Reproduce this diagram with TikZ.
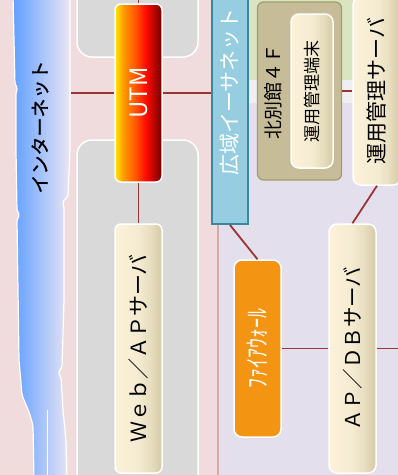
\documentclass[tikz,border=0pt]{standalone}
\usepackage{fontspec}
\usepackage{graphicx}
\newfontfamily\jp{Noto Sans CJK JP}
\newfontfamily\jpb[FakeBold=1]{Noto Sans CJK JP}
\definecolor{pinkbg}{HTML}{F0DCDC}
\definecolor{pinkline}{HTML}{DAA9A9}
\definecolor{greenbg}{HTML}{D9E4C2}
\definecolor{bandbg}{HTML}{EFEEF1}
\definecolor{lavbg}{HTML}{E4DFEC}
\definecolor{groupgray}{HTML}{D9D9D9}
\definecolor{conn}{HTML}{993535}
\definecolor{bluefill}{HTML}{96CDE0}
\definecolor{blueline}{HTML}{3A88A0}
\definecolor{tanfill}{HTML}{C6BD98}
\definecolor{tanline}{HTML}{A39C6C}
\definecolor{fworange}{HTML}{F39412}
\definecolor{cloudL}{HTML}{62A0FF}
\definecolor{cloudR}{HTML}{ECE6F4}
\definecolor{uy}{HTML}{FFE800}
\definecolor{uo}{HTML}{FF9A00}
\definecolor{uo2}{HTML}{FF5A00}
\definecolor{ur}{HTML}{FF0A00}
\definecolor{udr}{HTML}{700000}
\definecolor{c1}{HTML}{FCF2DA}
\definecolor{c2}{HTML}{F4EBD1}
\definecolor{c3}{HTML}{E6DCBD}
\definecolor{c4}{HTML}{D3C9A3}
\pgfdeclarehorizontalshading{utmshade}{100bp}{color(0bp)=(uy); color(25bp)=(uy); color(34bp)=(uo); color(46bp)=(uo2); color(58bp)=(ur); color(75bp)=(udr); color(100bp)=(udr)}
\pgfdeclarehorizontalshading{creamshade}{100bp}{color(0bp)=(c1); color(25bp)=(c1); color(50bp)=(c2); color(64bp)=(c3); color(75bp)=(c4); color(100bp)=(c4)}
\begin{document}
\begin{tikzpicture}[x=1pt,y=-1pt,
  groupbox/.style={fill=groupgray,draw=white,line width=1.5pt,rounded corners=15pt},
  conline/.style={draw=conn,line width=1.8pt},
  whitebox/.style={draw=white,line width=1.5pt,rounded corners=6pt,inner sep=0pt},
  creambox/.style={whitebox,shading=creamshade,shade},
  jpt/.style={font=\jp\fontsize{#1}{#1}\selectfont}
]
\useasboundingbox (0,0) rectangle (398,475);
\clip (0,0) rectangle (398,475);
% backgrounds
\fill[pinkbg] (-5,-5) rectangle (218,480);
\fill[greenbg] (218,-5) rectangle (405,80);
\fill[bandbg] (218,80) rectangle (405,103);
\fill[lavbg] (218,103) rectangle (405,480);
\draw[pinkline,line width=1.6pt] (218,-5) -- (218,480);
% groups
\draw[groupbox] (77,-40) rectangle (198,57);
\draw[groupbox] (77,140) rectangle (198,520);
% cloud
\draw[white,line width=1.2pt,left color=cloudL,right color=cloudR,rounded corners=2pt]
  (13,-5) -- (14,40) -- (15,85) -- (18,88) -- (16,92) -- (16,150) -- (17,211) -- (20,215) -- (17,219)
  -- (18,290) -- (19,360) -- (22,395) -- (29,412) -- (33,425) -- (34,480)
  -- (67,480) -- (66,440) -- (63,410) -- (61,377) -- (58,372) -- (62,368) -- (64,300) -- (64,206)
  -- (62,202) -- (68,197) -- (70,150) -- (70,-5) -- cycle;
\draw[white,line width=1pt] (47,410) -- (47,480);
\node[font=\jpb\fontsize{19}{19}\selectfont,text=black] (inet) at (40,127) {\rotatebox{90}{インターネット}};
\coordinate (cloudedge) at (71,93);
\coordinate (topstub) at (138.5,-3);
\coordinate (rightend) at (402,348.5);
% nodes
\node[whitebox,shading=utmshade,shade,minimum width=47pt,minimum height=178pt,text=white,font=\jp\fontsize{24}{24}\selectfont] (utm) at (138.5,93) {\rotatebox{90}{UTM}};
\node[creambox,minimum width=47pt,minimum height=249pt,jpt=21] (web) at (138.5,348.5) {\rotatebox{90}{Ｗｅｂ／ＡＰサーバ}};
\node[fill=bluefill,draw=blueline,line width=2pt,minimum width=36pt,minimum height=264pt,inner sep=0pt,text=white,jpt=21] (wan) at (230,92) {\rotatebox{90}{広域イーサネット}};
\node[fill=tanfill,draw=tanline,line width=1.2pt,rounded corners=6pt,minimum width=84pt,minimum height=178pt] (bldg) at (299.5,91) {};
\node[jpt=19,text=black,inner sep=0pt] (bldglabel) at (273.5,92) {\rotatebox{90}{北別館４Ｆ}};
\node[creambox,rounded corners=8pt,minimum width=42pt,minimum height=154pt,jpt=17] (term) at (312,91) {\rotatebox{90}{運用管理端末}};
\node[creambox,rounded corners=8pt,minimum width=48pt,minimum height=188pt,jpt=21] (srv) at (377,91) {\rotatebox{90}{運用管理サーバ}};
\node[creambox,rounded corners=8pt,minimum width=47pt,minimum height=249pt,jpt=20.5] (apdb) at (352.5,348.5) {\rotatebox{90}{ＡＰ／ＤＢサーバ}};
\node[whitebox,rounded corners=8pt,fill=fworange,minimum width=47pt,minimum height=177pt,text=white,jpt=20] (fw) at (257.5,348.5) {\rotatebox{90}{\scalebox{1}[1.25]{ﾌｧｲｱｳｫｰﾙ}}};
% connectors
\draw[conline] (cloudedge) -- (utm.west);
\draw[conline] (utm.east) -- (utm.east -| wan.west);
\draw[conline] (topstub) -- (utm.north);
\draw[conline] (utm.south) -- (web.north);
\draw[conline] (bldg.east) -- (bldg.east -| srv.west);
\draw[conline] (srv.south) -- (apdb.north);
\draw[conline] (wan.south) -- (fw.north);
\draw[conline] (fw.east) -- (apdb.west);
\draw[conline] (apdb.east) -- (rightend);
\end{tikzpicture}
\end{document}
